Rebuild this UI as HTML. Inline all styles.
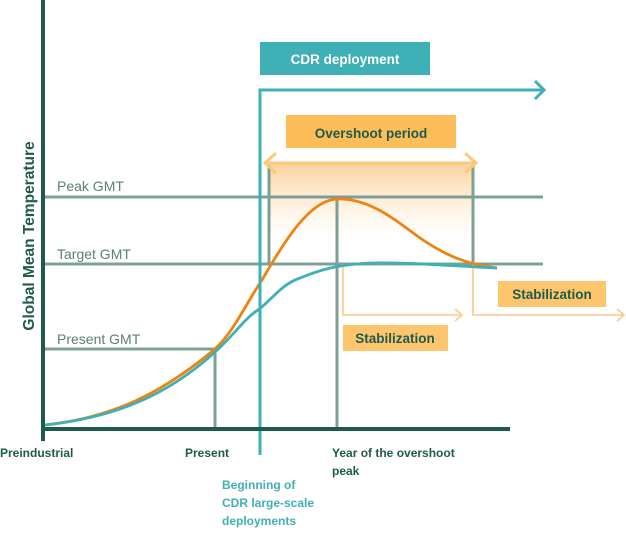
<!DOCTYPE html>
<html><head><meta charset="utf-8"><style>
html,body{margin:0;padding:0;background:#fff;}
svg{display:block;font-family:"Liberation Sans",sans-serif;}
</style></head><body>
<svg width="626" height="546" viewBox="0 0 626 546" xmlns="http://www.w3.org/2000/svg">
<defs>
<linearGradient id="g" x1="0" y1="0" x2="0" y2="1">
<stop offset="0" stop-color="#fbc98a" stop-opacity="0.85"/>
<stop offset="1" stop-color="#fde6c8" stop-opacity="0"/>
</linearGradient>
</defs>
<rect x="269" y="163" width="204" height="75" fill="url(#g)"/>
<g stroke="#6f968c" stroke-width="3" fill="none" opacity="0.9">
<line x1="43" y1="197" x2="543" y2="197"/>
<line x1="43" y1="264" x2="543" y2="264"/>
<line x1="43" y1="349" x2="215" y2="349"/>
<line x1="215" y1="349" x2="215" y2="429"/>
<line x1="337" y1="197" x2="337" y2="429"/>
<line x1="269" y1="165" x2="269" y2="264"/>
<line x1="473" y1="165" x2="473" y2="264"/>
</g>
<g stroke="#fbc98a" stroke-width="1.6" fill="none">
<polyline points="343,264 343,315 462,315"/>
<polyline points="455,309 462,315 455,321"/>
<polyline points="473,264 473,315 624,315"/>
<polyline points="617,309 624,315 617,321"/>
</g>
<g stroke="#fdc97c" stroke-width="3" fill="none" stroke-linecap="round">
<line x1="265" y1="163" x2="476" y2="163"/>
<polyline points="275,154 265,163 275,172"/>
<polyline points="466,154 476,163 466,172"/>
</g>
<path d="M45,425 C110,418 160,395 215,349 C235,330 245,305 262,280 C285,240 310,200 337,199 C370,198 395,220 420,238 C445,255 465,264 497,268" stroke="#f0820f" stroke-width="2.8" fill="none"/>
<path d="M45,425 C110,418 165,398 215,352 C232,337 245,318 258,310 C272,300 280,285 300,278 C320,270 335,265 370,263 C410,262 450,266 497,268" stroke="#3fb0b6" stroke-width="2.8" fill="none"/>
<g stroke="#3fb0b6" stroke-width="3" fill="none">
<polyline points="260,455 260,90 543,90"/>
<polyline points="535,81 544,90 535,99"/>
</g>
<g stroke="#1f5a4c" stroke-width="4">
<line x1="43" y1="0" x2="43" y2="441"/>
<line x1="41" y1="429" x2="510" y2="429"/>
</g>
<g font-weight="bold" font-size="13.5" text-anchor="middle">
<rect x="260" y="42" width="170" height="33" fill="#3fb0b6"/>
<text x="345" y="64" fill="#fff">CDR deployment</text>
<rect x="286" y="115" width="170" height="33" fill="#fdbe5a"/>
<text x="371" y="138" fill="#1f5a4c">Overshoot period</text>
<rect x="343" y="325" width="105" height="26" fill="#fdc66e"/>
<text x="395" y="343" fill="#1f5a4c">Stabilization</text>
<rect x="498" y="281" width="108" height="26" fill="#fdc66e"/>
<text x="552" y="299" fill="#1f5a4c">Stabilization</text>
</g>
<g fill="#5b7f75" font-size="14">
<text x="57" y="191">Peak GMT</text>
<text x="57" y="259">Target GMT</text>
<text x="57" y="344">Present GMT</text>
</g>
<g fill="#1f5a4c" font-size="12" font-weight="bold">
<text x="0" y="457">Preindustrial</text>
<text x="185" y="457">Present</text>
<text x="332" y="457">Year of the overshoot</text>
<text x="332" y="475">peak</text>
</g>
<g fill="#3fb0b6" font-size="12" font-weight="bold">
<text x="222" y="489">Beginning of</text>
<text x="222" y="507">CDR large-scale</text>
<text x="222" y="525">deployments</text>
</g>
<text transform="translate(34,236) rotate(-90)" text-anchor="middle" fill="#1f5a4c" font-size="15.5" font-weight="bold">Global Mean Temperature</text>
</svg>
</body></html>
